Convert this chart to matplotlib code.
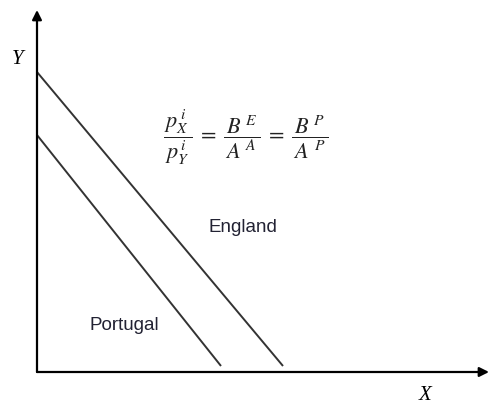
import matplotlib
matplotlib.use("Agg")
from matplotlib import pyplot as plt

plt.rcParams['mathtext.fontset'] = 'stix'

# 两条生产可能性边界：纵轴截距、横轴终点（线在轴上方略停）
countries = ["England", "Portugal"]
y_intercepts = [300, 237]
x_ends = [246, 184]
y_ends = [6, 6]
label_pos = [(206, 145), (87, 46)]

fig = plt.figure(figsize=(4.89, 4.03), dpi=100)
ax = fig.add_axes([37 / 489, 31 / 403, 452 / 489, 372 / 403])
ax.set_xlim(0, 452)
ax.set_ylim(0, 372)
ax.axis("off")

# 坐标轴（带箭头）
ax.annotate("", xy=(0, 362), xytext=(0, 0),
            arrowprops=dict(arrowstyle="-|>", color="black", lw=1.6, mutation_scale=14, shrinkA=0, shrinkB=0))
ax.annotate("", xy=(452, 0), xytext=(0, 0),
            arrowprops=dict(arrowstyle="-|>", color="black", lw=1.6, mutation_scale=14, shrinkA=0, shrinkB=0))

for name, y0, x1, y1, (lx, ly) in zip(countries, y_intercepts, x_ends, y_ends, label_pos):
    ax.plot([0, x1], [y0, y1], color="#333333", lw=1.4, solid_capstyle="butt")
    ax.text(lx, ly, name, fontsize=13.5, family="Liberation Sans", color="#222233",
            ha="center", va="center")

ax.text(-19, 312, "Y", fontsize=15, family="Liberation Serif", style="italic", ha="center", va="center")
ax.text(388, -23, "X", fontsize=15, family="Liberation Serif", style="italic", ha="center", va="center")

ax.text(209, 235,
        r"$\dfrac{\,p^{\,i}_{X}\,}{p^{\,i}_{Y}}\;=\;\dfrac{\,B^{\;E}\,}{A^{\;A}}\;=\;\dfrac{\,B^{\;P}\,}{A^{\;P}}$",
        fontsize=16, ha="center", va="center", color="#222222")

plt.savefig("out.png", dpi=100)
